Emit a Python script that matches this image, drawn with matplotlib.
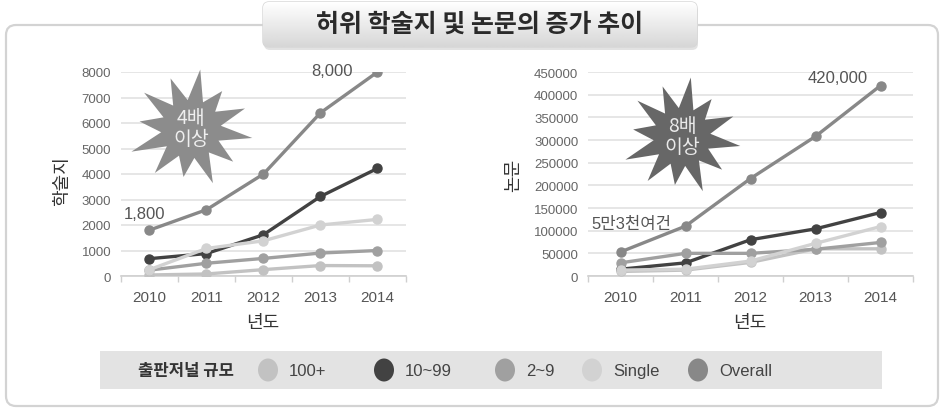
import numpy as np
import matplotlib
matplotlib.use("Agg")
import matplotlib.pyplot as plt
from matplotlib.patches import FancyBboxPatch, Rectangle, Ellipse, Polygon

plt.rcParams["font.family"] = ["Liberation Sans", "Noto Sans CJK KR", "DejaVu Sans"]

# ---------------------------------------------------------------- data
years = ["2010", "2011", "2012", "2013", "2014"]

series_names = ["100+", "10~99", "2~9", "Single", "Overall"]
series_colors = ["#c2c2c2", "#424242", "#a0a0a0", "#d2d2d2", "#888888"]

# journals (학술지)
j_100 = [40, 80, 250, 410, 400]
j_10_99 = [680, 880, 1620, 3120, 4220]
j_2_9 = [230, 500, 690, 900, 1000]
j_single = [250, 1080, 1380, 2000, 2220]
j_overall = [1800, 2600, 4000, 6400, 8000]

# papers (논문)
p_100 = [10000, 13000, 30000, 60000, 60000]
p_10_99 = [15000, 29000, 80000, 104000, 140000]
p_2_9 = [29000, 50000, 50000, 59000, 74000]
p_single = [13000, 15000, 33000, 72000, 109000]
p_overall = [53000, 110000, 215000, 308000, 420000]

W, H = 944, 410
fig = plt.figure(figsize=(W / 100, H / 100), dpi=100)


def px_axes(x0, y0, x1, y1, **kw):
    """Axes placed by pixel box (top-left origin)."""
    return fig.add_axes([x0 / W, 1 - y1 / H, (x1 - x0) / W, (y1 - y0) / H], **kw)


# background canvas in pixel coordinates
bg = fig.add_axes([0, 0, 1, 1], zorder=0)
bg.set_xlim(0, W)
bg.set_ylim(H, 0)
bg.axis("off")

bg.add_patch(FancyBboxPatch((6, 26), 932, 381,
                            boxstyle="round,pad=0,rounding_size=10",
                            fc="white", ec="#d3d3d3", lw=1.6))

# title box with a soft vertical gradient
tb_x0, tb_y0, tb_x1, tb_y1 = 263, 3, 697, 48
bg.add_patch(FancyBboxPatch((tb_x0 + 1, tb_y0 + 3), tb_x1 - tb_x0, tb_y1 - tb_y0,
                            boxstyle="round,pad=0,rounding_size=6",
                            fc="#e2e2e2", ec="none"))
title_box = FancyBboxPatch((tb_x0, tb_y0), tb_x1 - tb_x0, tb_y1 - tb_y0,
                           boxstyle="round,pad=0,rounding_size=6",
                           fc="none", ec="#d6d6d6", lw=1.0)
bg.add_patch(title_box)
grad = np.linspace(1.0, 0.84, 64).reshape(-1, 1)
im = bg.imshow(grad, cmap="gray", vmin=0, vmax=1, aspect="auto",
               extent=[tb_x0, tb_x1, tb_y1, tb_y0], zorder=1)
im.set_clip_path(title_box)
bg.text((tb_x0 + tb_x1) / 2, 25, "허위 학술지 및 논문의 증가 추이",
        ha="center", va="center", fontsize=18, fontweight="bold",
        color="#2a2a2a", family=["Noto Sans CJK KR"], zorder=2)

# legend bar
bg.add_patch(Rectangle((100, 352), 782, 38, fc="#e3e3e3", ec="none"))
bg.text(186, 371, "출판저널 규모", ha="center", va="center", fontsize=12,
        fontweight="bold", color="#333333", family=["Noto Sans CJK KR"])
legend_x = [268, 384, 505, 592, 698]
for lx, name, col in zip(legend_x, series_names, series_colors):
    bg.add_patch(Ellipse((lx, 371), 20, 23, fc=col, ec="none"))
    bg.text(lx + 21, 372, name, ha="left", va="center", fontsize=12, color="#444444")

# axis titles
bg.text(62, 181, "학술지", rotation=90, ha="center", va="center",
        fontsize=13, color="#333333", family=["Noto Sans CJK KR"])
bg.text(513, 175, "논문", rotation=90, ha="center", va="center",
        fontsize=13, color="#333333", family=["Noto Sans CJK KR"])
bg.text(263, 323, "년도", ha="center", va="center",
        fontsize=13, color="#333333", family=["Noto Sans CJK KR"])
bg.text(750, 323, "년도", ha="center", va="center",
        fontsize=13, color="#333333", family=["Noto Sans CJK KR"])


def style_axes(ax, ymax, ystep):
    ax.set_facecolor("none")
    ax.set_xlim(-0.5, len(years) - 0.5)
    ax.set_ylim(0, ymax)
    ax.set_yticks(np.arange(0, ymax + 1, ystep))
    ax.set_xticks(range(len(years)))
    ax.set_xticklabels(years)
    ax.set_xticks(np.arange(-0.5, len(years), 1.0), minor=True)
    for s in ["left", "right", "top"]:
        ax.spines[s].set_visible(False)
    ax.spines["bottom"].set_color("#cfcfcf")
    ax.spines["bottom"].set_linewidth(1.2)
    ax.grid(axis="y", color="#e2e2e2", lw=1.2)
    ax.set_axisbelow(True)
    ax.tick_params(axis="y", length=0, pad=7, labelsize=9.5, labelcolor="#666666")
    ax.tick_params(axis="x", which="major", length=0, pad=10, labelsize=11,
                   labelcolor="#555555")
    ax.tick_params(axis="x", which="minor", length=4, color="#cfcfcf", width=1)


def draw_series(ax, data):
    # light series first, totals on top
    for i in [0, 2, 3, 1, 4]:
        ax.plot(range(len(years)), data[i], color=series_colors[i], lw=2.4,
                marker="o", ms=6.5, mec=series_colors[i], solid_capstyle="round",
                zorder=3 + i)


ax1 = px_axes(121, 73, 406, 277, zorder=1)
style_axes(ax1, 8000, 1000)
draw_series(ax1, [j_100, j_10_99, j_2_9, j_single, j_overall])
ax1.annotate(f"{j_overall[-1]:,}", (4, j_overall[-1]), xytext=(-25, 1),
             textcoords="offset pixels", ha="right", va="center",
             fontsize=12, color="#555555")
ax1.annotate(f"{j_overall[0]:,}", (0, j_overall[0]), xytext=(-5, 17),
             textcoords="offset pixels", ha="center", va="center",
             fontsize=12, color="#555555")

ax2 = px_axes(588, 73, 913, 277, zorder=1)
style_axes(ax2, 450000, 50000)
draw_series(ax2, [p_100, p_10_99, p_2_9, p_single, p_overall])
ax2.annotate(f"{p_overall[-1]:,}", (4, p_overall[-1]), xytext=(-13, 8),
             textcoords="offset pixels", ha="right", va="center",
             fontsize=12, color="#555555")
ax2.annotate(f"{p_overall[0] // 10000}만{p_overall[0] % 10000 // 1000}천여건",
             (0, p_overall[0]), xytext=(11, 29), textcoords="offset pixels",
             ha="center", va="center", fontsize=12, color="#555555")

# starburst callouts drawn on top
fg = fig.add_axes([0, 0, 1, 1], zorder=5)
fg.set_xlim(0, W)
fg.set_ylim(H, 0)
fg.axis("off")
fg.patch.set_alpha(0)

spike_r = [62, 54, 60, 50, 58, 64, 52, 60, 56, 62, 50, 58]


def starburst(cx, cy, sx, sy, color):
    n = len(spike_r)
    pts = []
    for k in range(n):
        a_out = 2 * np.pi * k / n + 0.15
        a_in = a_out + np.pi / n
        pts.append((cx + sx * spike_r[k] * np.cos(a_out), cy + sy * spike_r[k] * np.sin(a_out)))
        pts.append((cx + sx * 30 * np.cos(a_in), cy + sy * 30 * np.sin(a_in)))
    fg.add_patch(Polygon(pts, closed=True, fc=color, ec="none"))


starburst(191, 130, 1.0, 0.97, "#8c8c8c")
fg.text(191, 129, "4배\n이상", ha="center", va="center", fontsize=14,
        color="#efefef", linespacing=1.05, family=["Noto Sans CJK KR"])
starburst(682, 138, 0.95, 0.97, "#676767")
fg.text(682, 137, "8배\n이상", ha="center", va="center", fontsize=14,
        color="#eaeaea", linespacing=1.05, family=["Noto Sans CJK KR"])

fig.savefig("out.png", dpi=100)
